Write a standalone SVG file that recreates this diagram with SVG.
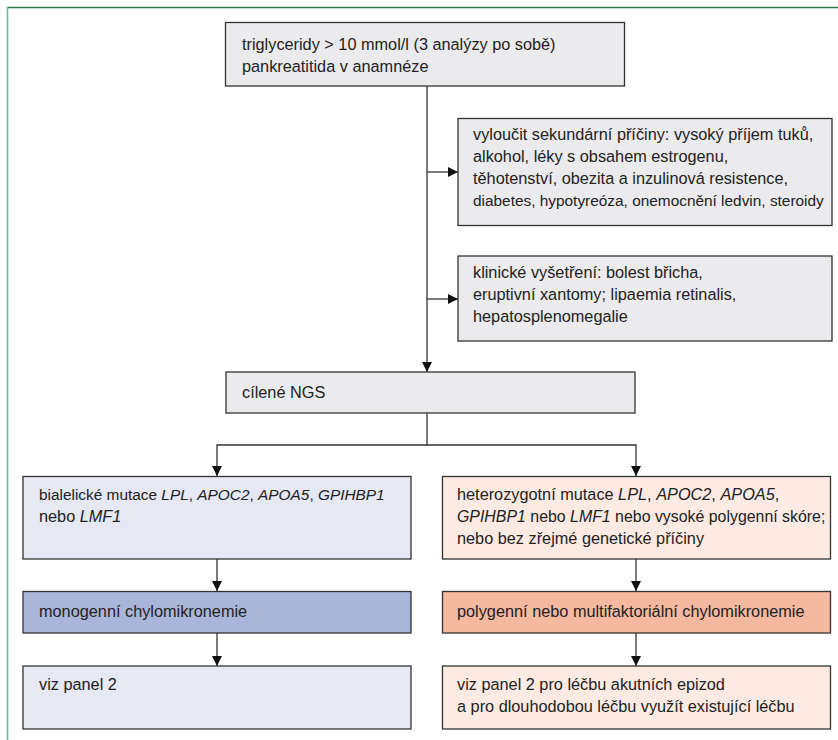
<svg xmlns="http://www.w3.org/2000/svg" width="838" height="740" viewBox="0 0 838 740">
<style>
.box{stroke:#333;stroke-width:1.3}
.g{fill:#ebebed}
.lav{fill:#e6e8f4}
.mono{fill:#a9b6da}
.pch{fill:#fdebe3}
.poly{fill:#f5b9a0}
text{font-family:"Liberation Sans",Arial,sans-serif;font-size:16.3px;fill:#222}
.sm{font-size:15.4px}
.i{font-style:italic}
.c{fill:none;stroke:#333;stroke-width:1.3}
</style>
<defs>
<marker id="ah" viewBox="0 0 10 10" refX="10" refY="5" markerWidth="10" markerHeight="10" markerUnits="userSpaceOnUse" orient="auto">
<path d="M0,0 L10,5 L0,10 Z" fill="#111"/>
</marker>
</defs>
<rect x="0" y="0" width="838" height="740" fill="#fff"/>
<line x1="7" y1="7.5" x2="838" y2="7.5" stroke="#2a7a50" stroke-width="1.6"/>
<line x1="7.5" y1="7" x2="7.5" y2="740" stroke="#6fb898" stroke-width="1.6"/>

<g id="connectors">
<path class="c" d="M427,86 V372" marker-end="url(#ah)"/>
<path class="c" d="M427,172 H458" marker-end="url(#ah)"/>
<path class="c" d="M427,299 H458" marker-end="url(#ah)"/>
<path class="c" d="M427,413 V445"/>
<path class="c" d="M427,445 H217 V476" marker-end="url(#ah)"/>
<path class="c" d="M427,445 H636 V476" marker-end="url(#ah)"/>
<path class="c" d="M217,559 V591" marker-end="url(#ah)"/>
<path class="c" d="M217,633 V666" marker-end="url(#ah)"/>
<path class="c" d="M636,559 V591" marker-end="url(#ah)"/>
<path class="c" d="M636,633 V666" marker-end="url(#ah)"/>
</g>

<g id="n-start">
<rect class="box g" x="225.5" y="22.5" width="399" height="63.5"/>
<text x="242" y="50">triglyceridy &gt; 10 mmol/l (3 analýzy po sobě)</text>
<text x="242" y="72">pankreatitida v anamnéze</text>
</g>

<g id="n-secondary">
<rect class="box g" x="458" y="118.5" width="374" height="107"/>
<text x="473" y="140">vyloučit sekundární příčiny: vysoký příjem tuků,</text>
<text x="473" y="162">alkohol, léky s obsahem estrogenu,</text>
<text x="473" y="184">těhotenství, obezita a inzulinová resistence,</text>
<text class="sm" x="473" y="206">diabetes, hypotyreóza, onemocnění ledvin, steroidy</text>
</g>

<g id="n-clinical">
<rect class="box g" x="458" y="256" width="374" height="85"/>
<text x="473" y="278">klinické vyšetření: bolest břicha,</text>
<text x="473" y="300">eruptivní xantomy; lipaemia retinalis,</text>
<text x="473" y="322">hepatosplenomegalie</text>
</g>

<g id="n-ngs">
<rect class="box g" x="226" y="372" width="409" height="41"/>
<text x="242" y="398">cílené NGS</text>
</g>

<g id="n-biallelic">
<rect class="box lav" x="23" y="476.5" width="388" height="82.5"/>
<text class="sm" x="39" y="500">bialelické mutace <tspan class="i">LPL</tspan>, <tspan class="i">APOC2</tspan>, <tspan class="i">APOA5</tspan>, <tspan class="i">GPIHBP1</tspan></text>
<text x="39" y="522">nebo <tspan class="i">LMF1</tspan></text>
</g>

<g id="n-hetero">
<rect class="box pch" x="442.5" y="476.5" width="388" height="82.5"/>
<text x="457" y="500">heterozygotní mutace <tspan class="i">LPL</tspan>, <tspan class="i">APOC2</tspan>, <tspan class="i">APOA5</tspan>,</text>
<text x="457" y="522" style="font-size:15.9px"><tspan class="i">GPIHBP1</tspan> nebo <tspan class="i">LMF1</tspan> nebo vysoké polygenní skóre;</text>
<text x="457" y="544">nebo bez zřejmé genetické příčiny</text>
</g>

<g id="n-mono">
<rect class="box mono" x="23" y="591.5" width="388" height="41.5"/>
<text x="39" y="617">monogenní chylomikronemie</text>
</g>

<g id="n-poly">
<rect class="box poly" x="442.5" y="591.5" width="388" height="41.5"/>
<text x="457" y="617">polygenní nebo multifaktoriální chylomikronemie</text>
</g>

<g id="n-panel-left">
<rect class="box lav" x="23" y="666" width="388" height="63"/>
<text x="39" y="690">viz panel 2</text>
</g>

<g id="n-panel-right">
<rect class="box pch" x="442.5" y="666" width="388" height="63"/>
<text x="457" y="690">viz panel 2 pro léčbu akutních epizod</text>
<text x="457" y="712">a pro dlouhodobou léčbu využít existující léčbu</text>
</g>
</svg>
